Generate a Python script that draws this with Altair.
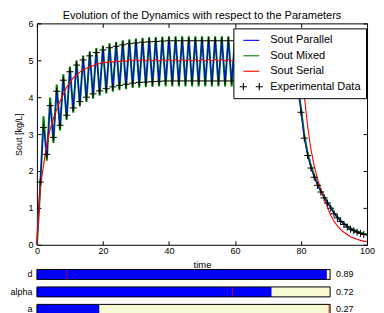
import altair as alt
import pandas as pd

# ---------------- data ----------------
time = list(range(101))

series_names = ["Sout Parallel", "Sout Mixed", "Sout Serial", "Experimental Data"]
series_colors = ["#0000ff", "#008000", "#ff0000", "#000000"]

exp_time = list(range(1, 100))
exp_value = [
    1.70, 3.18, 2.45, 3.77, 2.91, 4.16, 3.24, 4.46, 3.51, 4.69,   # 1-10
    3.71, 4.87, 3.88, 5.01, 4.00, 5.12, 4.09, 5.21, 4.17, 5.28,   # 11-20
    4.23, 5.34, 4.28, 5.38, 4.32, 5.42, 4.35, 5.45, 4.38, 5.47,   # 21-30
    4.40, 5.49, 4.41, 5.50, 4.42, 5.51, 4.43, 5.52, 4.44, 5.53,   # 31-40
    4.44, 5.53, 4.44, 5.53, 4.44, 5.53, 4.44, 5.53, 4.44, 5.53,   # 41-50
    4.44, 5.53, 4.44, 5.53, 4.44, 5.53, 4.44, 5.53, 4.44, 5.53,   # 51-60
    4.44, 5.53, 4.44, 5.53, 4.44, 5.53, 4.44, 5.53, 4.44, 5.53,   # 61-70
    4.44, 5.53, 4.44, 5.53, 4.44, 5.53, 4.44, 5.53, 4.44, 3.59,   # 71-80
    2.89, 2.42, 2.08, 1.83, 1.61, 1.43, 1.27, 1.13, 0.99, 0.84,   # 81-90
    0.73, 0.63, 0.55, 0.48, 0.42, 0.38, 0.34, 0.31, 0.28,         # 91-99
]

parallel = [
    0.00,
    1.70, 3.18, 2.45, 3.77, 2.91, 4.16, 3.24, 4.46, 3.51, 4.69,
    3.71, 4.87, 3.88, 5.01, 4.00, 5.12, 4.09, 5.21, 4.17, 5.28,
    4.23, 5.34, 4.28, 5.38, 4.32, 5.42, 4.35, 5.45, 4.38, 5.47,
    4.40, 5.49, 4.41, 5.50, 4.42, 5.51, 4.43, 5.52, 4.44, 5.53,
    4.44, 5.53, 4.44, 5.53, 4.44, 5.53, 4.44, 5.53, 4.44, 5.53,
    4.44, 5.53, 4.44, 5.53, 4.44, 5.53, 4.44, 5.53, 4.44, 5.53,
    4.44, 5.53, 4.44, 5.53, 4.44, 5.53, 4.44, 5.53, 4.44, 5.53,
    4.44, 5.53, 4.44, 5.53, 4.44, 5.53, 4.44, 5.53, 4.44, 3.59,
    2.89, 2.42, 2.08, 1.83, 1.61, 1.43, 1.27, 1.13, 0.99, 0.84,
    0.73, 0.63, 0.55, 0.48, 0.42, 0.38, 0.34, 0.31, 0.28, 0.26,
]

mixed = [
    0.00,
    1.55, 3.48, 2.28, 3.99, 2.76, 4.34, 3.10, 4.62, 3.38, 4.83,
    3.58, 5.00, 3.75, 5.13, 3.87, 5.24, 3.96, 5.33, 4.04, 5.40,
    4.10, 5.46, 4.15, 5.50, 4.19, 5.54, 4.22, 5.57, 4.25, 5.59,
    4.26, 5.61, 4.27, 5.62, 4.28, 5.63, 4.29, 5.64, 4.29, 5.65,
    4.29, 5.65, 4.29, 5.65, 4.29, 5.65, 4.29, 5.65, 4.29, 5.65,
    4.29, 5.65, 4.29, 5.65, 4.29, 5.65, 4.29, 5.65, 4.29, 5.65,
    4.29, 5.65, 4.29, 5.65, 4.29, 5.65, 4.29, 5.65, 4.29, 5.65,
    4.29, 5.65, 4.29, 5.65, 4.29, 5.65, 4.29, 5.65, 4.29, 3.70,
    2.97, 2.49, 2.14, 1.88, 1.66, 1.47, 1.31, 1.16, 1.02, 0.87,
    0.76, 0.66, 0.58, 0.51, 0.45, 0.40, 0.36, 0.33, 0.30, 0.28,
]

serial = [
    0.00,
    1.52, 2.15, 2.72, 3.13, 3.43, 3.67, 3.89, 4.08, 4.27, 4.41,
    4.52, 4.60, 4.68, 4.75, 4.78, 4.83, 4.85, 4.90, 4.91, 4.95,
    4.94, 4.97, 4.95, 4.99, 4.96, 5.00, 4.97, 5.02, 4.98, 5.02,
    4.98, 5.02, 4.98, 5.02, 4.98, 5.02, 4.98, 5.02, 4.98, 5.02,
    4.98, 5.02, 4.98, 5.02, 4.98, 5.02, 4.98, 5.02, 4.98, 5.02,
    4.98, 5.02, 4.98, 5.02, 4.98, 5.02, 4.98, 5.02, 4.98, 5.02,
    4.98, 5.02, 4.98, 5.02, 4.98, 5.02, 4.98, 5.02, 4.98, 5.02,
    4.98, 5.02, 4.98, 5.02, 4.98, 5.02, 4.98, 5.02, 4.98, 4.75,
    4.04, 3.22, 2.59, 2.14, 1.78, 1.50, 1.27, 1.02, 0.80, 0.64,
    0.51, 0.41, 0.34, 0.28, 0.22, 0.18, 0.15, 0.12, 0.10, 0.09,
]

x_ticks = [0, 20, 40, 60, 80, 100]
y_ticks = [0, 1, 2, 3, 4, 5, 6]

slider_names = ["d", "alpha", "a"]
slider_values = [0.89, 0.72, 0.27]
slider_max = [0.90, 0.90, 1.27]
slider_init = [0.092, 0.60, 1.265]

# ---------------- tables ----------------
lines_df = pd.concat([
    pd.DataFrame({"time": time, "value": parallel, "series": "Sout Parallel"}),
    pd.DataFrame({"time": time, "value": mixed, "series": "Sout Mixed"}),
    pd.DataFrame({"time": time, "value": serial, "series": "Sout Serial"}),
], ignore_index=True)
exp_df = pd.DataFrame({"time": exp_time, "value": exp_value, "series": "Experimental Data"})

FONT = "Liberation Sans"
PLUS = "M-1,0H1M0,-1V1"
LEG_LINE = "M-1.33,0H1.33"
LEG_PLUS2 = "M-1.93,0H-0.73M-1.33,-0.6V0.6M0.73,0H1.93M1.33,-0.6V0.6"

legend = alt.Legend(
    orient="none", legendX=197, legendY=5,
    fillColor="white", strokeColor="black", padding=5, cornerRadius=0,
    labelFontSize=11, labelFont=FONT, labelColor="black",
    symbolSize=144, symbolStrokeWidth=1.1, symbolOffset=6, labelOffset=12,
    rowPadding=3.5,
)
color = alt.Color("series:N", title=None,
                  scale=alt.Scale(domain=series_names, range=series_colors),
                  legend=legend)
shape = alt.Shape("series:N", title=None,
                  scale=alt.Scale(domain=series_names,
                                  range=[LEG_LINE, LEG_LINE, LEG_LINE, LEG_PLUS2]),
                  legend=legend)

x_scale = alt.Scale(domain=[0, 100], nice=False, zero=False)
y_scale = alt.Scale(domain=[0, 6], nice=False, zero=False)

tick_common = dict(offset=-4, tickSize=4, domain=False, grid=False,
                   tickColor="black", tickWidth=1)
x_bottom = alt.Axis(values=x_ticks, orient="bottom", labelPadding=2, labelFlush=False,
                    labelFontSize=9, labelColor="black", labelFont=FONT,
                    title="time", titleFontSize=9.5, titleFontWeight="normal",
                    titleColor="black", titleFont=FONT, titlePadding=4, **tick_common)
x_top = alt.Axis(values=x_ticks, orient="top", labels=False, title=None, **tick_common)
y_left = alt.Axis(values=y_ticks, orient="left", labelPadding=4, labelFlush=False,
                  labelFontSize=9, labelColor="black", labelFont=FONT,
                  title="Sout [kg/L]", titleFontSize=9, titleFontWeight="normal",
                  titleColor="black", titleFont=FONT, titlePadding=4, **tick_common)
y_right = alt.Axis(values=y_ticks, orient="right", labels=False, title=None, **tick_common)

base = alt.Chart(lines_df)

green = base.transform_filter(alt.datum.series == "Sout Mixed").mark_line(strokeWidth=2.0).encode(
    x=alt.X("time:Q", scale=x_scale, axis=x_bottom),
    y=alt.Y("value:Q", scale=y_scale, axis=y_left),
    color=color,
)
blue = base.transform_filter(alt.datum.series == "Sout Parallel").mark_line(strokeWidth=1.0).encode(
    x=alt.X("time:Q", scale=x_scale, axis=x_top),
    y=alt.Y("value:Q", scale=y_scale, axis=y_right),
    color=color,
)
red = base.transform_filter(alt.datum.series == "Sout Serial").mark_line(strokeWidth=1.1).encode(
    x=alt.X("time:Q", scale=x_scale, axis=None),
    y=alt.Y("value:Q", scale=y_scale, axis=None),
    color=color,
)
points = alt.Chart(exp_df).mark_point(shape=PLUS, size=49, filled=False, strokeWidth=1, opacity=1).encode(
    x=alt.X("time:Q", scale=x_scale, axis=None),
    y=alt.Y("value:Q", scale=y_scale, axis=None),
    color=color,
)
# empty layer that only carries the legend symbol shapes
legend_shapes = alt.Chart(exp_df).transform_filter(alt.datum.series == "__none__").mark_point(
    filled=False, opacity=1).encode(
    x=alt.X("time:Q", scale=x_scale, axis=None),
    y=alt.Y("value:Q", scale=y_scale, axis=None),
    color=color,
    shape=shape,
)

main = alt.layer(green, blue, red, points, legend_shapes).resolve_axis(
    x="independent", y="independent"
).properties(
    width=331, height=222,
    title=alt.TitleParams("Evolution of the Dynamics with respect to the Parameters",
                          fontSize=11, fontWeight="normal", font=FONT, color="black",
                          offset=-2, frame="group", anchor="middle"),
    view=alt.ViewBackground(stroke="black", strokeWidth=1),
)

# ---------------- sliders ----------------
sdf = pd.DataFrame({"name": slider_names, "value": slider_values,
                    "max": slider_max, "init": slider_init})
sdf["frac"] = sdf["value"] / sdf["max"]
sdf["init_frac"] = sdf["init"] / sdf["max"]
sdf["zero"] = 0.0
sdf["full"] = 1.0
sdf["label"] = sdf["value"].map(lambda v: f"{v:.2f}")

sx = alt.Scale(domain=[0, 1], nice=False, zero=False)
sy = alt.Y("name:N", sort=slider_names,
           scale=alt.Scale(paddingInner=0.43, paddingOuter=0.215),
           axis=alt.Axis(title=None, ticks=False, domain=False, labelPadding=5,
                         labelFontSize=9, labelColor="black", labelFont=FONT))
sbase = alt.Chart(sdf)
bg = sbase.mark_rect(color="#fafad2").encode(
    x=alt.X("zero:Q", scale=sx, axis=None), x2="full:Q", y=sy)
fill = sbase.mark_rect(color="#0000ff").encode(
    x=alt.X("zero:Q", scale=sx, axis=None), x2="frac:Q", y=sy)
marker = sbase.mark_tick(color="#ff0000", thickness=1, size=10).encode(
    x=alt.X("init_frac:Q", scale=sx, axis=None), y=sy)
outline = sbase.mark_rect(fillOpacity=0, stroke="black", strokeWidth=1).encode(
    x=alt.X("zero:Q", scale=sx, axis=None), x2="full:Q", y=sy)
vals = sbase.mark_text(align="left", dx=6, fontSize=9, font=FONT, color="black").encode(
    x=alt.X("full:Q", scale=sx, axis=None), y=sy, text="label:N")

sliders = alt.layer(bg, fill, marker, outline, vals).properties(
    width=294, height=52.5,
    view=alt.ViewBackground(stroke="transparent"),
)

chart = alt.vconcat(main, sliders, spacing=21, bounds="flush").properties(
    padding={"left": 1, "top": 1, "right": 0, "bottom": 0}
).configure(font=FONT).configure_view(stroke="transparent")

chart.save("out.html", embed_options={"renderer": "svg", "actions": False})
